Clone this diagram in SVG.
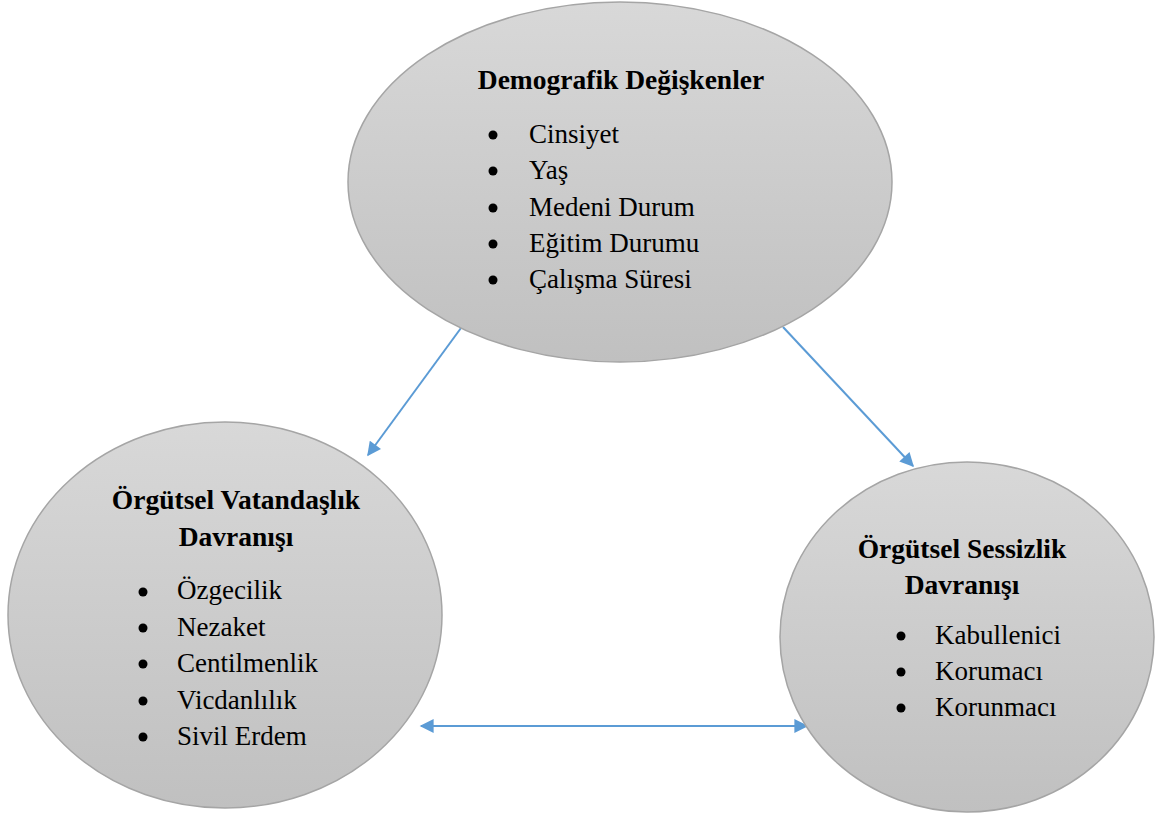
<svg xmlns="http://www.w3.org/2000/svg" width="1161" height="819" viewBox="0 0 1161 819">
<style>
.node{stroke:#a5a5a5;stroke-width:1.5}
.title{font-family:"Liberation Serif","Times New Roman",serif;font-weight:bold;font-size:27.5px;fill:#000;text-anchor:middle}
.item{font-family:"Liberation Serif","Times New Roman",serif;font-size:27px;fill:#000}
.bul{fill:#000}
.conn{stroke:#5b9bd5;stroke-width:2;fill:none}
</style>
<defs>
<linearGradient id="g" x1="0" y1="0" x2="0" y2="1">
<stop offset="0" stop-color="#d8d8d8"/>
<stop offset="1" stop-color="#c0c0c0"/>
</linearGradient>
<marker id="ah" viewBox="0 0 10 10" refX="9" refY="5" markerWidth="7.5" markerHeight="7" orient="auto-start-reverse" markerUnits="strokeWidth">
<path d="M0,0 L10,5 L0,10 z" fill="#5b9bd5"/>
</marker>
</defs>
<rect width="1161" height="819" fill="#fff"/>
<g id="connectors">
<line class="conn" x1="461" y1="328" x2="368" y2="455" marker-end="url(#ah)"/>
<line class="conn" x1="783" y1="327" x2="913" y2="466" marker-end="url(#ah)"/>
<line class="conn" x1="421" y1="726" x2="807" y2="726" marker-start="url(#ah)" marker-end="url(#ah)"/>
</g>
<g id="demografik">
<ellipse class="node" cx="620" cy="182" rx="272" ry="180" fill="url(#g)"/>
<text class="title" x="621" y="89">Demografik Değişkenler</text>
<circle class="bul" cx="493" cy="135" r="4.5"/><text class="item" x="529" y="143">Cinsiyet</text>
<circle class="bul" cx="493" cy="171" r="4.5"/><text class="item" x="529" y="179">Yaş</text>
<circle class="bul" cx="493" cy="208" r="4.5"/><text class="item" x="529" y="216">Medeni Durum</text>
<circle class="bul" cx="493" cy="244" r="4.5"/><text class="item" x="529" y="252">Eğitim Durumu</text>
<circle class="bul" cx="493" cy="280" r="4.5"/><text class="item" x="529" y="288">Çalışma Süresi</text>
</g>
<g id="vatandaslik">
<ellipse class="node" cx="225" cy="615" rx="217" ry="193" fill="url(#g)"/>
<text class="title" x="236" y="509">Örgütsel Vatandaşlık</text>
<text class="title" x="236" y="546">Davranışı</text>
<circle class="bul" cx="143" cy="592" r="4.5"/><text class="item" x="177" y="599">Özgecilik</text>
<circle class="bul" cx="143" cy="628" r="4.5"/><text class="item" x="177" y="636">Nezaket</text>
<circle class="bul" cx="143" cy="664" r="4.5"/><text class="item" x="177" y="672">Centilmenlik</text>
<circle class="bul" cx="143" cy="701" r="4.5"/><text class="item" x="177" y="709">Vicdanlılık</text>
<circle class="bul" cx="143" cy="737" r="4.5"/><text class="item" x="177" y="745">Sivil Erdem</text>
</g>
<g id="sessizlik">
<ellipse class="node" cx="967" cy="637" rx="187" ry="175" fill="url(#g)"/>
<text class="title" x="962" y="558">Örgütsel Sessizlik</text>
<text class="title" x="962" y="594">Davranışı</text>
<circle class="bul" cx="901" cy="636" r="4.5"/><text class="item" x="935" y="644">Kabullenici</text>
<circle class="bul" cx="901" cy="672" r="4.5"/><text class="item" x="935" y="680">Korumacı</text>
<circle class="bul" cx="901" cy="708" r="4.5"/><text class="item" x="935" y="716">Korunmacı</text>
</g>
</svg>
